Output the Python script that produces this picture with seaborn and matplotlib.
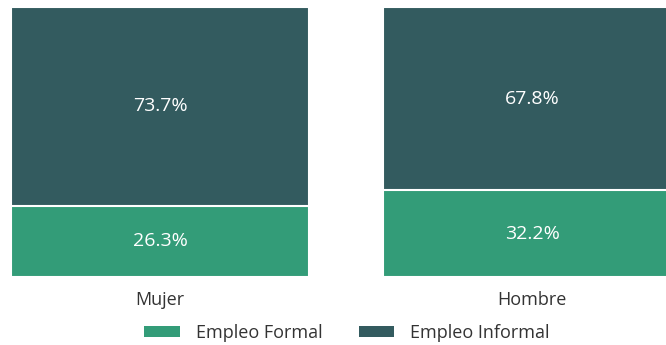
import matplotlib
matplotlib.use("Agg")
import matplotlib.pyplot as plt
import seaborn as sns
import pandas as pd
from matplotlib.patches import Patch

sexo = ["Mujer", "Hombre"]
formal = [26.3, 32.2]
informal = [73.7, 67.8]
series = ["Empleo Formal", "Empleo Informal"]
colores = ["#339c78", "#335b5f"]

sns.set_theme(style="white")
plt.rcParams["font.family"] = ["Open Sans", "DejaVu Sans"]

df = pd.DataFrame({"sexo": sexo, "formal": formal, "total": [f + i for f, i in zip(formal, informal)]})

fig = plt.figure(figsize=(6.66, 3.45), dpi=100)
ax = fig.add_axes([0, 68 / 345, 1, 270 / 345])

# stacked bars: total (informal on top) then formal over it
sns.barplot(data=df, x="sexo", y="total", color=colores[1], width=0.8,
            edgecolor="white", linewidth=1.5, saturation=1, ax=ax)
sns.barplot(data=df, x="sexo", y="formal", color=colores[0], width=0.8,
            edgecolor="white", linewidth=1.5, saturation=1, ax=ax)

for i, (f, inf) in enumerate(zip(formal, informal)):
    ax.text(i, f / 2, f"{f:.1f}%", ha="center", va="center", color="white", fontsize=14)
    ax.text(i, f + inf / 2, f"{inf:.1f}%", ha="center", va="center", color="white", fontsize=14)

ax.set_xlim(-0.43, 1.36)
ax.set_ylim(0, 100)
ax.set_xlabel("")
ax.set_ylabel("")
ax.set_yticks([])
ax.tick_params(axis="x", length=0, pad=10, labelsize=13, labelcolor="#333333")
sns.despine(ax=ax, left=True, bottom=True)

handles = [Patch(facecolor=c, edgecolor="none") for c in colores]
fig.legend(handles, series, loc="center", bbox_to_anchor=(0.521, 12 / 345), ncol=2,
           frameon=False, fontsize=13, handlelength=1.95, handleheight=0.5,
           columnspacing=2.0, handletextpad=0.9, labelcolor="#333333")

fig.savefig("out.png", dpi=100)
